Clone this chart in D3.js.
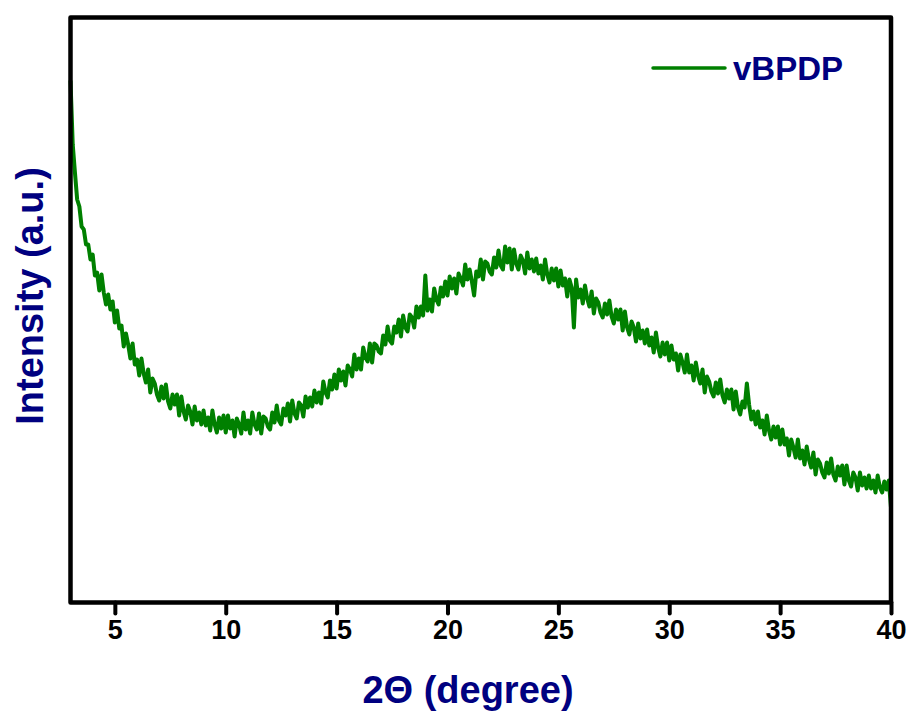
<!DOCTYPE html>
<html><head><meta charset="utf-8">
<script src="https://cdn.jsdelivr.net/npm/d3@7"></script>
<style>body{margin:0;background:#fff}svg{display:block}</style>
</head><body>
<svg id="c" width="913" height="713"></svg>
<script>
// 2θ from 3.0 to 40.0 in steps of 0.1 degree
const twoThetaStart = 3.0;
const twoThetaStep = 0.1;
const intensity = [
522,458,430,403,396,376,373,358,358,343,
348,327,330,312,328,310,298,308,293,301,
280,292,274,277,256,269,258,244,259,238,
243,227,244,229,220,233,210,224,219,208,
202,216,204,218,201,194,208,198,208,187,
206,191,183,197,191,178,196,182,190,178,
192,177,185,172,192,178,170,185,174,187,
170,187,174,182,166,184,178,169,190,173,
182,169,190,178,173,189,169,186,184,176,
173,190,180,197,182,178,194,187,199,181,
202,189,184,200,197,186,206,195,205,196,
212,200,210,199,221,210,205,222,213,228,
214,233,222,231,217,237,233,226,248,233,
244,233,255,245,241,259,240,259,257,251,
249,267,258,276,262,259,276,270,283,266,
287,275,271,288,285,275,296,285,296,287,
327,292,303,291,314,303,298,315,306,321,
307,326,314,324,309,329,324,317,338,323,
333,321,307,331,326,343,323,341,339,331,
328,345,335,352,337,333,356,340,354,333,
353,339,333,347,342,329,350,334,343,331,
344,329,337,323,343,328,320,334,322,334,
316,332,317,324,306,323,315,275,323,305,
313,299,317,304,296,311,289,304,300,290,
285,299,288,302,286,279,293,283,293,272,
291,275,268,281,275,261,279,264,272,259,
273,257,265,250,270,255,246,260,248,260,
242,257,243,249,232,248,240,230,248,230,
237,222,240,227,219,233,210,226,221,211,
206,220,209,223,207,200,213,204,213,193,
211,195,188,201,195,219,198,183,191,178,
191,175,182,168,187,172,163,176,165,176,
158,173,158,164,147,163,155,145,163,144,
152,138,156,143,135,150,128,143,139,130,
125,140,129,144,128,122,136,127,137,118,
137,122,116,130,125,112,130,117,125,114,
127,114,122,110,127,115,110,121,113,122,
95
];
const xTicks = [5,10,15,20,25,30,35,40];
const seriesName = "vBPDP";
const xTitle = "2\u0398 (degree)";
const yTitle = "Intensity (a.u.)";

const data = intensity.map((v,i)=>({x: +(twoThetaStart + i*twoThetaStep).toFixed(1), y: v}));

const svg = d3.select("#c");
const L=70.5, R=891, T=17.5, B=602.5;
const x = d3.scaleLinear().domain([3,40]).range([L,R]);
const y = d3.scaleLinear().domain([0,585]).range([B,T]);
const navy = "#000080", green = "#008000";
const font = "'Liberation Sans', Arial, sans-serif";

// data line
const line = d3.line().x(d=>x(d.x)).y(d=>y(d.y));
svg.append("path").datum(data).attr("d",line)
  .attr("fill","none").attr("stroke",green).attr("stroke-width",4).attr("stroke-linejoin","round");

// x axis
const xAxis = d3.axisBottom(x).tickValues(xTicks).tickSize(11).tickPadding(6).tickFormat(d3.format("d"));
const gx = svg.append("g").attr("transform",`translate(0,${B})`).call(xAxis);
gx.select(".domain").remove();
gx.selectAll(".tick line").attr("stroke","#000").attr("stroke-width",4).attr("stroke-linecap","round");
gx.selectAll(".tick text").attr("fill","#000").style("font-family",font).style("font-weight","bold").style("font-size","27px");

// frame
svg.append("rect").attr("x",L).attr("y",T).attr("width",R-L).attr("height",B-T)
  .attr("fill","none").attr("stroke","#000").attr("stroke-width",4.5).attr("stroke-linejoin","round");

// titles
svg.append("text").attr("x",468).attr("y",703).attr("text-anchor","middle")
  .attr("fill",navy).style("font-family",font).style("font-weight","bold").style("font-size","38px").text(xTitle);
svg.append("text").attr("transform","translate(43,296) rotate(-90)").attr("text-anchor","middle")
  .attr("fill",navy).style("font-family",font).style("font-weight","bold").style("font-size","38px").text(yTitle);

// legend
svg.append("line").attr("x1",653).attr("x2",725).attr("y1",68).attr("y2",68)
  .attr("stroke",green).attr("stroke-width",3.5).attr("stroke-linecap","round");
svg.append("text").attr("x",733).attr("y",80).attr("fill",navy)
  .style("font-family",font).style("font-weight","bold").style("font-size","33px").text(seriesName);
</script>
</body></html>
